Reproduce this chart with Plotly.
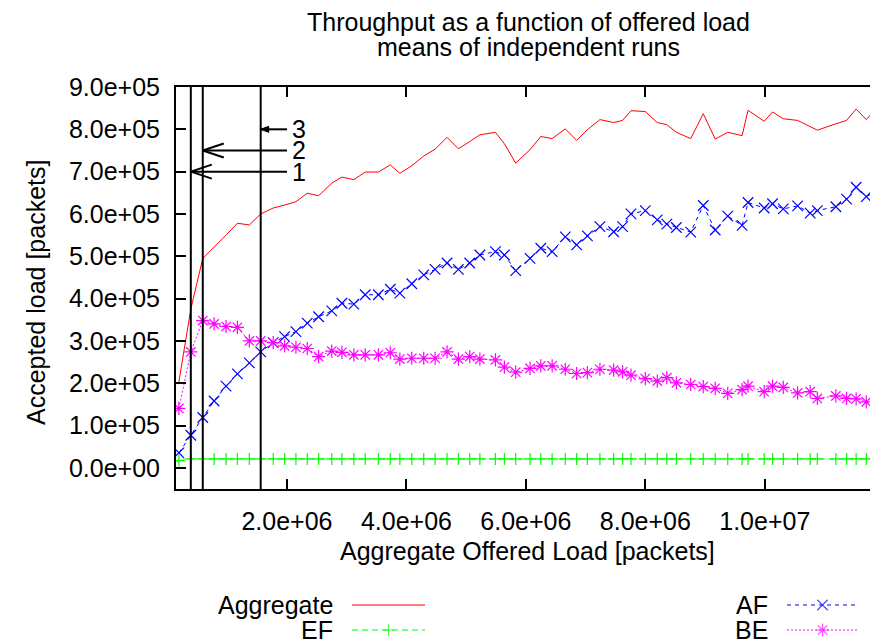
import plotly.graph_objects as go

# ---------------- data ----------------
offered_load = [190000, 390000, 590000, 780000, 980000, 1170000, 1370000, 1560000, 1770000, 1960000,
                2150000, 2340000, 2530000, 2750000, 2920000, 3120000, 3310000, 3530000, 3730000, 3890000,
                4090000, 4290000, 4480000, 4680000, 4870000, 5060000, 5230000, 5490000, 5640000, 5830000,
                6070000, 6250000, 6440000, 6660000, 6850000, 7030000, 7240000, 7470000, 7620000, 7760000,
                8000000, 8200000, 8360000, 8520000, 8760000, 8970000, 9170000, 9380000, 9620000, 9720000,
                9990000, 10130000, 10310000, 10550000, 10760000, 10880000, 11190000, 11370000, 11530000, 11700000,
                11900000]

aggregate = [203000, 375000, 495000, 521000, 550000, 578000, 574000, 600000, 614000, 621000,
             629000, 649000, 643000, 673000, 687000, 681000, 699000, 699000, 716000, 696000,
             714000, 737000, 753000, 781000, 754000, 771000, 787000, 793000, 766000, 720000,
             752000, 783000, 778000, 801000, 774000, 799000, 823000, 816000, 821000, 844000,
             842000, 816000, 811000, 793000, 778000, 837000, 777000, 793000, 785000, 845000,
             819000, 841000, 825000, 821000, 806000, 798000, 813000, 821000, 848000, 823000,
             855000]

ef = [17000, 21000, 21000, 21000, 21000, 21000, 21000, 21000, 21000, 21000,
      21000, 21000, 21000, 21000, 21000, 21000, 21000, 21000, 21000, 21000,
      21000, 21000, 21000, 21000, 21000, 21000, 21000, 21000, 21000, 21000,
      21000, 21000, 21000, 21000, 21000, 21000, 21000, 21000, 21000, 21000,
      21000, 21000, 21000, 21000, 21000, 21000, 21000, 21000, 21000, 21000,
      21000, 21000, 21000, 21000, 21000, 21000, 21000, 21000, 21000, 21000,
      21000]

af = [35500, 77000, 119000, 158000, 193000, 222000, 248000, 274000, 296000, 310000,
      322000, 342000, 357000, 371000, 389000, 387000, 409000, 409000, 422000, 413000,
      435000, 456000, 469000, 484000, 469000, 484000, 503000, 511000, 503000, 466000,
      495000, 519000, 511000, 546000, 527000, 548000, 570000, 558000, 570000, 600000,
      608000, 586000, 576000, 568000, 557000, 620000, 562000, 595000, 573000, 627000,
      614000, 624000, 612000, 619000, 602000, 608000, 617000, 635000, 663000, 641000,
      655000]

be = [140500, 274000, 348000, 340000, 334000, 332000, 300000, 300000, 296000, 288000,
      285000, 282000, 263000, 276000, 273000, 267000, 267000, 267000, 272000, 257000,
      259000, 259000, 259000, 274000, 257000, 263000, 257000, 255000, 238000, 226000,
      235000, 241000, 241000, 233000, 223000, 225000, 233000, 231000, 227000, 219000,
      211000, 205000, 213000, 201000, 197000, 192000, 188000, 176000, 185000, 193000,
      180000, 193000, 190000, 177000, 180000, 164000, 170000, 164000, 163000, 156000,
      155000]

x_tick_vals = [2.0e6, 4.0e6, 6.0e6, 8.0e6, 1.0e7]
x_tick_text = ["2.0e+06", "4.0e+06", "6.0e+06", "8.0e+06", "1.0e+07"]
y_tick_vals = [0, 1e5, 2e5, 3e5, 4e5, 5e5, 6e5, 7e5, 8e5, 9e5]
y_tick_text = ["0.0e+00", "1.0e+05", "2.0e+05", "3.0e+05", "4.0e+05",
               "5.0e+05", "6.0e+05", "7.0e+05", "8.0e+05", "9.0e+05"]

# marker lines (index into offered_load) and arrows
marker_idx = [1, 2, 7]
arrow_labels = ["1", "2", "3"]
arrow_y = [7.0e5, 7.5e5, 8.0e5]
arrow_start_x = 2.0e6

X_RANGE = [142000, 11762000]
Y_RANGE = [-50000, 900000]

# ---------------- layout constants ----------------
W, H = 870, 644
PL, PT, PB = 176, 87, 489   # plot left, top, bottom (pixels)
FONT = "Liberation Sans, Arial, sans-serif"
FS = 25

RED, GREEN, BLUE, MAG = "#ff0000", "#00ff00", "#0000ff", "#ff00ff"

fig = go.Figure()

fig.add_trace(go.Scatter(x=offered_load, y=aggregate, mode="lines",
                         line=dict(color=RED, width=1), name="Aggregate"))
fig.add_trace(go.Scatter(x=offered_load, y=ef, mode="lines+markers",
                         line=dict(color=GREEN, width=1, dash="6px,4px"),
                         marker=dict(symbol="cross-thin", size=8.5, line=dict(color=GREEN, width=1.2)),
                         name="EF"))
fig.add_trace(go.Scatter(x=offered_load, y=af, mode="lines+markers",
                         line=dict(color=BLUE, width=1, dash="4px,4px"),
                         marker=dict(symbol="x-thin", size=10.5, line=dict(color=BLUE, width=1.2)),
                         name="AF"))
fig.add_trace(go.Scatter(x=offered_load, y=be, mode="lines+markers",
                         line=dict(color=MAG, width=1, dash="2px,2px"),
                         marker=dict(symbol="asterisk", size=11, line=dict(color=MAG, width=1.2)),
                         name="BE"))

# ---------------- custom key (pixel axes) ----------------
key = [
    ("Aggregate", 335, 352, 425, 605, RED, "solid", None, 0),
    ("EF", 335, 352, 425, 630, GREEN, "6px,4px", "cross-thin", 8.5),
    ("AF", 770, 787, 858, 605, BLUE, "4px,4px", "x-thin", 10.5),
    ("BE", 770, 787, 858, 630, MAG, "2px,2px", "asterisk", 11),
]
annotations = []
for name, tx, x0, x1, yy, col, dash, sym, sz in key:
    xm = (x0 + x1) / 2
    fig.add_trace(go.Scatter(x=[x0, xm, x1], y=[yy, yy, yy], xaxis="x2", yaxis="y2",
                             mode="lines+markers" if sym else "lines",
                             line=dict(color=col, width=1, dash=dash),
                             marker=dict(symbol=sym or "circle", size=[0, sz, 0],
                                         line=dict(color=col, width=1.2)),
                             hoverinfo="skip"))
    annotations.append(dict(text=name, xref="paper", yref="paper", x=tx / W, y=1 - yy / H,
                            xanchor="right", yanchor="middle", showarrow=False,
                            font=dict(family=FONT, size=FS, color="black")))

# titles
annotations += [
    dict(text="Throughput as a function of offered load", xref="paper", yref="paper",
         x=528 / W, y=1 - 22 / H, xanchor="center", yanchor="middle", showarrow=False,
         font=dict(family=FONT, size=FS, color="black")),
    dict(text="means of independent runs", xref="paper", yref="paper",
         x=528 / W, y=1 - 47 / H, xanchor="center", yanchor="middle", showarrow=False,
         font=dict(family=FONT, size=FS, color="black")),
    dict(text="Aggregate Offered Load [packets]", xref="paper", yref="paper",
         x=527 / W, y=1 - 551 / H, xanchor="center", yanchor="middle", showarrow=False,
         font=dict(family=FONT, size=FS, color="black")),
    dict(text="Accepted load [packets]", xref="paper", yref="paper", textangle=-90,
         x=36 / W, y=1 - 293 / H, xanchor="center", yanchor="middle", showarrow=False,
         font=dict(family=FONT, size=FS, color="black")),
]

shapes = []
# vertical marker lines
for i in marker_idx:
    shapes.append(dict(type="line", xref="x", yref="y domain", x0=offered_load[i], x1=offered_load[i],
                       y0=0, y1=1, line=dict(color="black", width=2), layer="above"))
# arrows
for n, (i, lab, ay) in enumerate(zip(marker_idx, arrow_labels, arrow_y)):
    xe = offered_load[i]
    shapes.append(dict(type="line", xref="x", yref="y", x0=arrow_start_x, x1=xe, y0=ay, y1=ay,
                       line=dict(color="black", width=2), layer="above"))
    if n < 2:
        for s in (1, -1):
            shapes.append(dict(type="line", xref="x", yref="y", xsizemode="pixel", ysizemode="pixel",
                               xanchor=xe, yanchor=ay, x0=0, y0=0, x1=21, y1=7 * s,
                               line=dict(color="black", width=2), layer="above"))
    else:
        shapes.append(dict(type="path", xref="x", yref="y", xsizemode="pixel", ysizemode="pixel",
                           xanchor=xe, yanchor=ay, path="M0,0 L8,3 L8,-3 Z",
                           fillcolor="black", line=dict(color="black", width=1), layer="above"))
    annotations.append(dict(text=lab, xref="x", yref="y", x=arrow_start_x, y=ay, xshift=3,
                            xanchor="left", yanchor="middle", showarrow=False,
                            font=dict(family=FONT, size=FS, color="black")))

fig.update_layout(
    template="none",
    width=W, height=H, margin=dict(l=0, r=0, t=0, b=0, pad=0, autoexpand=False),
    paper_bgcolor="white", plot_bgcolor="rgba(0,0,0,0)", showlegend=False,
    font=dict(family=FONT, size=FS, color="black"),
    xaxis=dict(domain=[PL / W, 1], range=X_RANGE, anchor="y", automargin=False,
               tickvals=x_tick_vals, ticktext=x_tick_text, ticks="inside", ticklen=10,
               tickwidth=2, tickcolor="black", showline=True, linewidth=2, linecolor="black",
               mirror="allticks", showgrid=False, zeroline=False, ticklabelstandoff=9,
               tickfont=dict(family=FONT, size=FS, color="black")),
    yaxis=dict(domain=[1 - PB / H, 1 - PT / H], range=Y_RANGE, anchor="x", automargin=False,
               tickvals=y_tick_vals, ticktext=y_tick_text, ticks="inside", ticklen=10,
               tickwidth=2, tickcolor="black", showline=True, linewidth=2, linecolor="black",
               mirror=False, showgrid=False, zeroline=False, ticklabelstandoff=9,
               tickfont=dict(family=FONT, size=FS, color="black")),
    yaxis3=dict(overlaying="y", side="right", anchor="x", range=Y_RANGE, tickvals=y_tick_vals,
                ticks="inside", ticklen=4, tickwidth=2, tickcolor="black", showticklabels=False,
                showline=False, showgrid=False, zeroline=False, automargin=False),
    xaxis2=dict(domain=[0, 1], range=[0, W], anchor="y2", visible=False, automargin=False),
    yaxis2=dict(domain=[0, 1], range=[H, 0], anchor="x2", visible=False, automargin=False),
    annotations=annotations, shapes=shapes,
)

fig.write_html("out.html")
